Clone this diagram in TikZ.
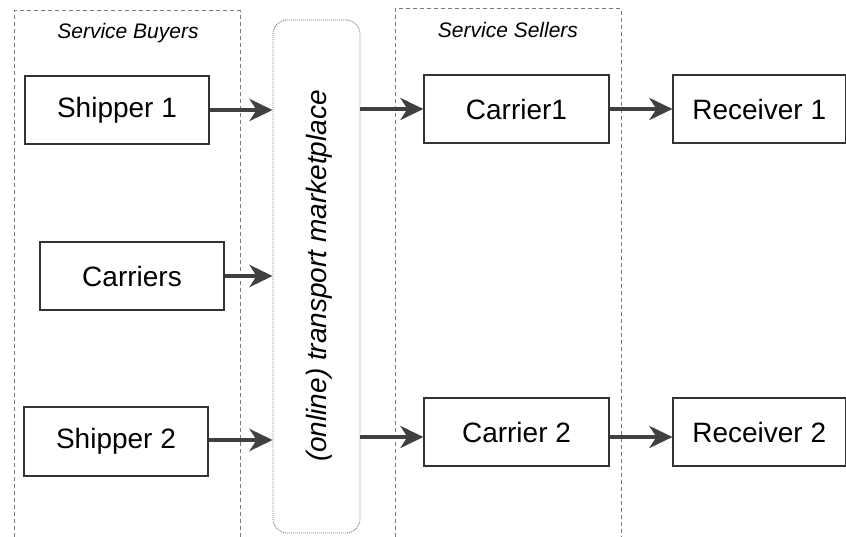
\documentclass[tikz,border=0pt]{standalone}
\usepackage{fontspec}
\setmainfont{Liberation Sans}
\usetikzlibrary{arrows.meta,calc}
\definecolor{arrowgray}{HTML}{404040}
\definecolor{dashgray}{HTML}{7A7A7A}
\definecolor{boxgray}{HTML}{333333}
\begin{document}
\begin{tikzpicture}[x=1pt,y=-1pt,
  box/.style={draw=boxgray, line width=1.2pt, fill=white, minimum width=185pt, minimum height=68pt, inner sep=0pt, font=\fontsize{28}{32}\selectfont},
  flow/.style={draw=arrowgray, line width=4.5pt, -{Stealth[length=23pt,width=22pt,inset=7pt,fill=arrowgray]}},
  region/.style={draw=dashgray, line width=1pt, dash pattern=on 4pt off 3pt},
  grouplabel/.style={font=\fontsize{21}{24}\selectfont\itshape, inner sep=0pt},
  market/.style={draw=dashgray, line width=0.9pt, dash pattern=on 1pt off 1pt, rounded corners=14pt, minimum width=87pt, minimum height=513pt, inner sep=0pt}
]
\useasboundingbox (0,0) rectangle (846,537);
\fill[white] (0,0) rectangle (846,537);

% regions
\draw[region] (14,537) -- (14,11) -- (240,11) -- (240,537);
\draw[region] (395,537) -- (395,9) -- (621,9) -- (621,537);
\node[grouplabel] (gb) at (128,33) {Service Buyers};
\node[grouplabel] (gs) at (508,30) {Service Sellers};

% marketplace
\node[market] (mp) at (316.5,276.5) {};
\node[rotate=90, font=\fontsize{28}{32}\selectfont\itshape, inner sep=0pt] (mpl) at (319.5,276) {(online) transport marketplace};

% boxes
\node[box, minimum width=184pt] (s1) at (117,110) {Shipper 1};
\node[box, minimum width=184pt] (ca) at (132,276) {Carriers};
\node[box, minimum width=184pt, minimum height=69pt] (s2) at (116,441.5) {Shipper 2};
\node[box] (c1) at (516.5,109) {Carrier1};
\node[box] (c2) at (516.5,432) {Carrier 2};
\node[box, minimum width=172.5pt] (r1) at (759.25,109) {Receiver 1};
\node[box, minimum width=172.5pt] (r2) at (759.25,432) {Receiver 2};

% arrows
\draw[flow] (s1.east) -- (s1.east -| mp.west);
\draw[flow] (ca.east) -- (ca.east -| mp.west);
\draw[flow] ($(s2.east)+(0,-1.5)$) -- ($(s2.east -| mp.west)+(0,-1.5)$);
\draw[flow] (c1.west -| mp.east) -- (c1.west);
\draw[flow] ($(c2.west -| mp.east)+(0,5)$) -- ($(c2.west)+(0,5)$);
\draw[flow] (c1.east) -- (r1.west);
\draw[flow] ($(c2.east)+(0,5)$) -- ($(r2.west)+(0,5)$);
\end{tikzpicture}
\end{document}
